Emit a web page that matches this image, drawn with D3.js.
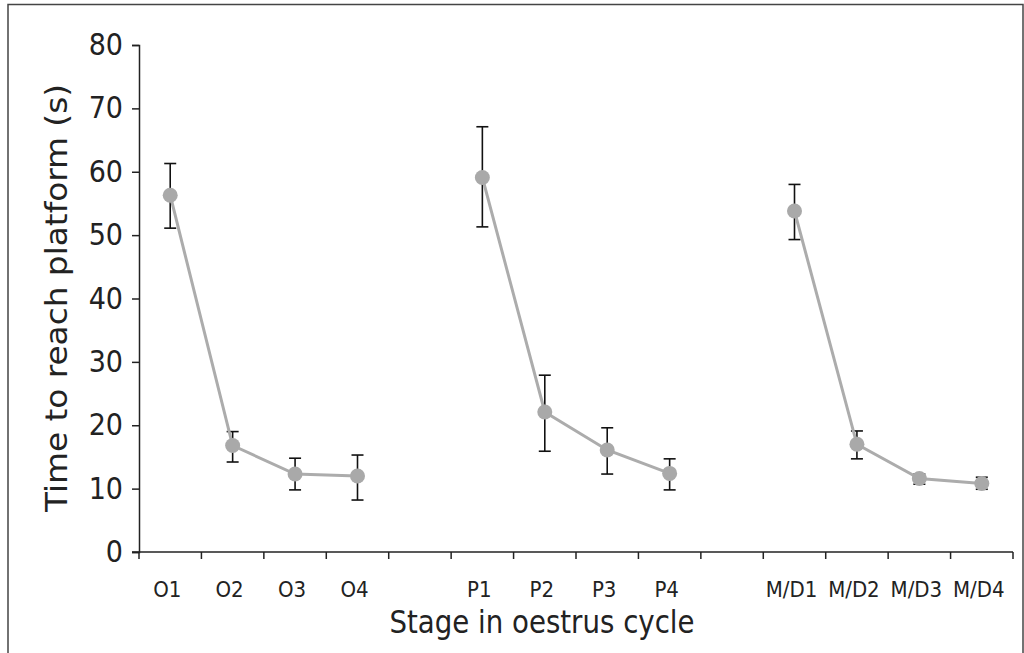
<!DOCTYPE html>
<html><head><meta charset="utf-8">
<script src="https://cdn.jsdelivr.net/npm/d3@7"></script>
<style>
body{margin:0;background:#fff;}
text{font-family:"DejaVu Sans Condensed","DejaVu Sans",sans-serif;font-stretch:condensed;fill:#222;}
</style></head><body>
<svg id="c" width="1024" height="653"></svg>
<script>
// ---- data ----
const slots = ["O1","O2","O3","O4","gap1","P1","P2","P3","P4","gap2","M/D1","M/D2","M/D3","M/D4"];
const groupO = ["O1","O2","O3","O4"];
const groupP = ["P1","P2","P3","P4"];
const groupMD = ["M/D1","M/D2","M/D3","M/D4"];
const meanO = [56.3, 16.8, 12.3, 12.0];
const lowO  = [51.1, 14.2, 9.8, 8.2];
const highO = [61.3, 19.0, 14.8, 15.3];
const meanP = [59.1, 22.1, 16.1, 12.4];
const lowP  = [51.3, 15.9, 12.3, 9.8];
const highP = [67.1, 27.9, 19.6, 14.7];
const meanMD = [53.8, 17.0, 11.6, 10.8];
const lowMD  = [49.3, 14.7, 10.7, 9.9];
const highMD = [58.0, 19.1, 12.3, 11.8];
const yTicks = [0,10,20,30,40,50,60,70,80];
const yTitle = "Time to reach platform (s)";
const xTitle = "Stage in oestrus cycle";

const svg = d3.select("#c");
// frame
svg.append("rect").attr("x",8).attr("y",4.5).attr("width",1015).attr("height",660)
  .attr("fill","none").attr("stroke","#444").attr("stroke-width",1.5);

const x = d3.scaleBand().domain(slots).range([139,1013]).padding(0);
const y = d3.scaleLinear().domain([0,80]).range([552,45]);

// y axis
const yAx = svg.append("g").attr("transform","translate(139,0)")
  .call(d3.axisLeft(y).tickValues(yTicks).tickSize(7).tickPadding(9));
yAx.select(".domain").attr("stroke","#222").attr("stroke-width",1.5);
yAx.selectAll(".tick line").attr("stroke","#222").attr("stroke-width",1.5);
yAx.selectAll(".tick text").attr("font-size",30).attr("fill","#222")
  .style("font-family",null);

// x axis
const xAx = svg.append("g").attr("transform","translate(0,552)");
xAx.append("line").attr("x1",132).attr("x2",x.range()[1]).attr("y1",0).attr("y2",0)
  .attr("stroke","#222").attr("stroke-width",1.5);
const bounds = slots.map(s=>x(s)).concat([x.range()[1]]);
xAx.selectAll(".bt").data(bounds).join("line").attr("class","bt")
  .attr("x1",d=>d).attr("x2",d=>d).attr("y1",0).attr("y2",7)
  .attr("stroke","#222").attr("stroke-width",1.5);
xAx.selectAll(".xl").data(slots.filter(s=>!s.startsWith("gap"))).join("text").attr("class","xl")
  .attr("x",d=>x(d)+x.bandwidth()/2 - 3).attr("y",45).attr("text-anchor","middle")
  .attr("font-size",22).text(d=>d);

// titles
svg.append("text").attr("x",542).attr("y",633).attr("text-anchor","middle")
  .attr("font-size",32).attr("textLength",305).attr("lengthAdjust","spacingAndGlyphs").text(xTitle);
svg.append("text").attr("transform","translate(67,298) rotate(-90)").attr("text-anchor","middle")
  .attr("font-size",30).attr("textLength",428).attr("lengthAdjust","spacingAndGlyphs").text(yTitle);

// series
const series = [
  {cats:groupO, mean:meanO, low:lowO, high:highO},
  {cats:groupP, mean:meanP, low:lowP, high:highP},
  {cats:groupMD, mean:meanMD, low:lowMD, high:highMD}
];
const cx = c => x(c)+x.bandwidth()/2;
const line = d3.line().x(d=>cx(d.c)).y(d=>y(d.m));
series.forEach(s=>{
  const pts = s.cats.map((c,i)=>({c, m:s.mean[i], lo:s.low[i], hi:s.high[i]}));
  const g = svg.append("g");
  const eb = g.selectAll(".eb").data(pts).join("g");
  eb.append("line").attr("x1",d=>cx(d.c)).attr("x2",d=>cx(d.c))
    .attr("y1",d=>y(d.lo)).attr("y2",d=>y(d.hi)).attr("stroke","#111").attr("stroke-width",1.6);
  eb.append("line").attr("x1",d=>cx(d.c)-6).attr("x2",d=>cx(d.c)+6)
    .attr("y1",d=>y(d.hi)).attr("y2",d=>y(d.hi)).attr("stroke","#111").attr("stroke-width",1.6);
  eb.append("line").attr("x1",d=>cx(d.c)-6).attr("x2",d=>cx(d.c)+6)
    .attr("y1",d=>y(d.lo)).attr("y2",d=>y(d.lo)).attr("stroke","#111").attr("stroke-width",1.6);
  g.append("path").datum(pts).attr("d",line).attr("fill","none")
    .attr("stroke","#acacac").attr("stroke-width",3);
  g.selectAll("circle").data(pts).join("circle")
    .attr("cx",d=>cx(d.c)).attr("cy",d=>y(d.m)).attr("r",7.5).attr("fill","#a9a9a9");
});
</script></body></html>
